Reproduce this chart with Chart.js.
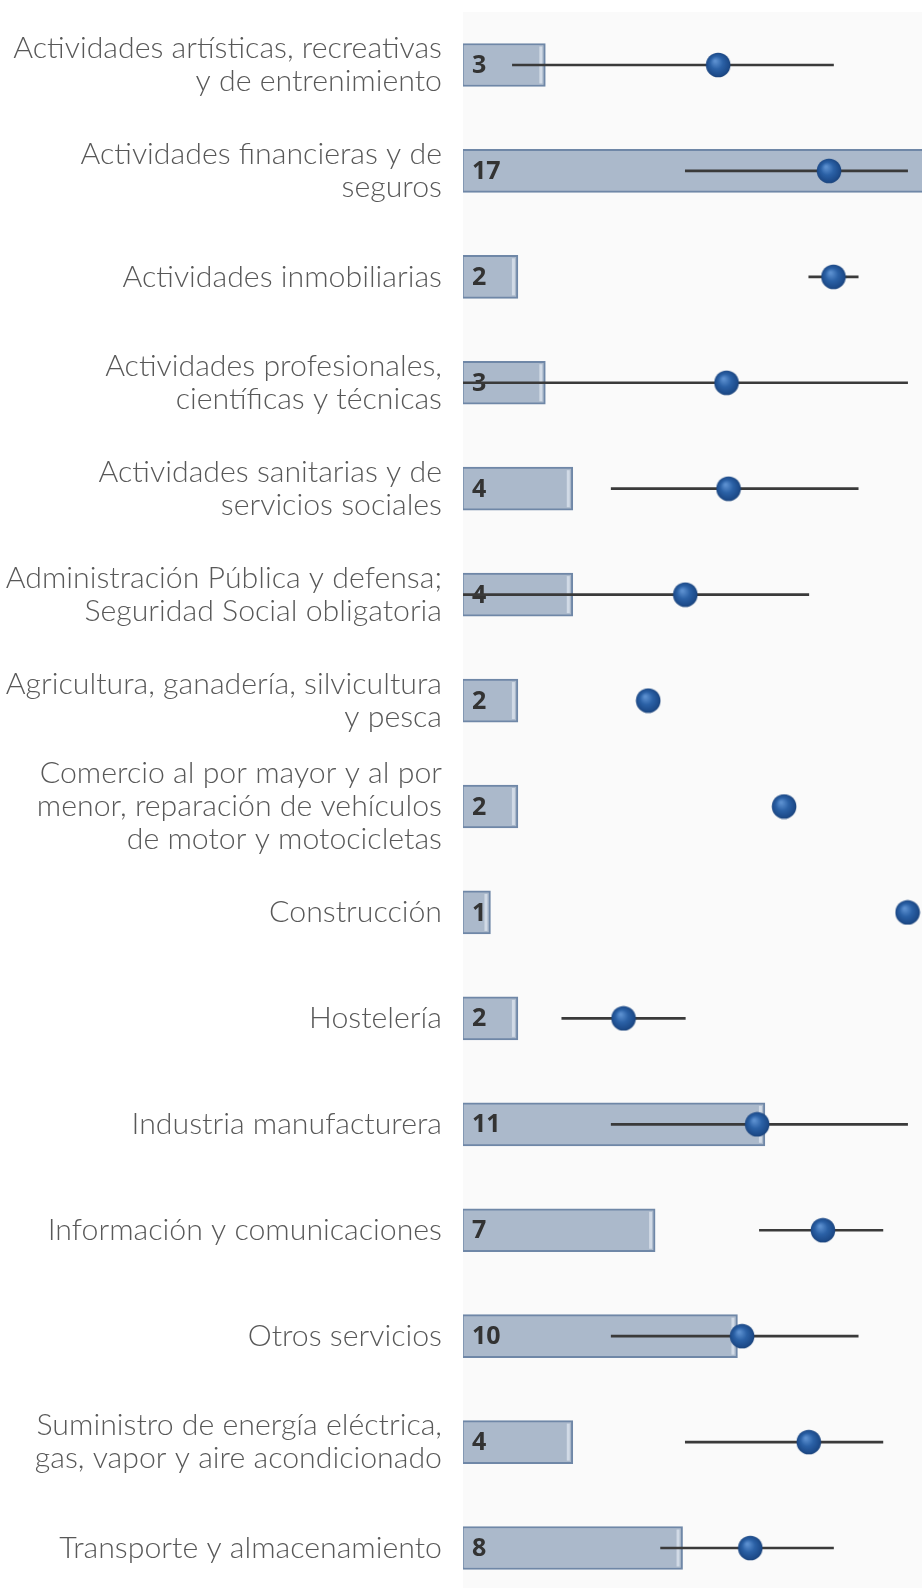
<!DOCTYPE html>
<html>
<head>
<meta charset="utf-8">
<script src="https://cdn.jsdelivr.net/npm/chart.js@4.4.1/dist/chart.umd.min.js"></script>
<style>
  html, body { margin: 0; padding: 0; background: #fff; overflow: hidden; }
  #wrap { width: 922px; height: 1588px; overflow: hidden; position: relative; }
  #mycanvas { position: absolute; left: 0; top: 0; }
</style>
</head>
<body>
<div id="wrap"><canvas id="mycanvas" width="957" height="1601" style="width:957px;height:1601px"></canvas></div>
<script>
// sectores
var sectores = [
  ['Actividades artísticas, recreativas', 'y de entrenimiento'],
  ['Actividades financieras y de', 'seguros'],
  'Actividades inmobiliarias',
  ['Actividades profesionales,', 'científicas y técnicas'],
  ['Actividades sanitarias y de', 'servicios sociales'],
  ['Administración Pública y defensa;', 'Seguridad Social obligatoria'],
  ['Agricultura, ganadería, silvicultura', 'y pesca'],
  ['Comercio al por mayor y al por', 'menor, reparación de vehículos', 'de motor y motocicletas'],
  'Construcción',
  'Hostelería',
  'Industria manufacturera',
  'Información y comunicaciones',
  'Otros servicios',
  ['Suministro de energía eléctrica,', 'gas, vapor y aire acondicionado'],
  'Transporte y almacenamiento'
];
// numero de respuestas (barras)
var nbr = [3, 17, 2, 3, 4, 4, 2, 2, 1, 2, 11, 7, 10, 4, 8];
// media (puntos) y rango min / max
var media = [10.33, 14.82, 15, 10.67, 10.75, 9, 7.5, 13, 18, 6.5, 11.91, 14.57, 11.3, 14, 11.63];
var minimo = [2, 9, 14, 0, 6, 0, null, null, null, 4, 6, 12, 6, 9, 8];
var maximo = [15, 18, 16, 18, 16, 14, null, null, null, 9, 18, 17, 16, 17, 15];

var rango = [];
for (var i in minimo) {
  rango.push(minimo[i] === null ? null : [minimo[i], maximo[i]]);
}

// bolita azul
var bola = document.createElement('canvas');
bola.width = 26; bola.height = 26;
var bc = bola.getContext('2d');
var g = bc.createRadialGradient(10, 9, 1, 13, 13, 13);
g.addColorStop(0, '#5b8fcf');
g.addColorStop(0.45, '#2b61a6');
g.addColorStop(0.85, '#1d4b8a');
g.addColorStop(1, '#173d72');
bc.fillStyle = g;
bc.beginPath();
bc.arc(13, 13, 12.3, 0, Math.PI * 2);
bc.fill();

var fondo = {
  id: 'fondo',
  beforeDatasetsDraw: function(chart) {
    var a = chart.chartArea, c = chart.ctx;
    c.save();
    c.fillStyle = '#fafafa';
    c.fillRect(a.left, a.top, a.right - a.left, a.bottom - a.top);
    c.restore();
  },
  afterDatasetDraw: function(chart, args) {
    if (args.index !== 0) return;
    var c = chart.ctx;
    c.save();
    // brillo en el extremo de cada barra
    c.strokeStyle = 'rgba(225,232,241,0.7)';
    c.lineWidth = 3;
    args.meta.data.forEach(function(bar) {
      var h = bar.height / 2;
      c.beginPath();
      c.moveTo(bar.x - 4.5, bar.y - h + 3);
      c.lineTo(bar.x - 4.5, bar.y + h - 3);
      c.stroke();
    });
    c.font = 'bold 25px "Open Sans"';
    c.fillStyle = '#333333';
    c.textBaseline = 'middle';
    c.textAlign = 'left';
    args.meta.data.forEach(function(bar, k) {
      c.fillText(nbr[k], bar.base + 9, bar.y + 1);
    });
    c.restore();
  }
};

var ctx = document.getElementById('mycanvas');
var barGraph = new Chart(ctx, {
  type: 'bar',
  data: {
    labels: sectores,
    datasets: [
      {
        label: 'Respuestas',
        data: nbr,
        xAxisID: 'x',
        backgroundColor: '#abb9cb',
        borderColor: '#6f87a7',
        borderWidth: { top: 2, bottom: 2, left: 1, right: 2 },
        borderSkipped: false,
        barThickness: 43,
        grouped: false,
        order: 2
      },
      {
        label: 'Rango',
        data: rango,
        xAxisID: 'x2',
        backgroundColor: '#3a3a3a',
        borderWidth: 0,
        barThickness: 2,
        grouped: false,
        order: 1
      },
      {
        type: 'line',
        label: 'Media',
        data: media,
        xAxisID: 'x2',
        indexAxis: 'y',
        showLine: false,
        pointStyle: bola,
        pointRadius: 12,
        clip: false,
        order: 0
      }
    ]
  },
  options: {
    indexAxis: 'y',
    responsive: false,
    animation: false,
    layout: { autoPadding: false, padding: { top: 12, left: 0, right: 0, bottom: 0 } },
    plugins: { legend: { display: false }, tooltip: { enabled: false } },
    scales: {
      x: { display: false, min: 0, max: 18 },
      x2: { display: false, min: 0, max: 20 },
      y: {
        afterFit: function(scale) {
          scale.width = 463;
          scale.paddingTop = 0;
          scale.paddingBottom = 0;
        },
        grid: { display: false, drawTicks: false },
        border: { display: true, color: '#d6d6d6', width: 1 },
        ticks: {
          padding: 21,
          color: '#585858',
          font: { family: 'Lato', size: 30.3, weight: 300, lineHeight: 1.09 }
        }
      }
    }
  },
  plugins: [fondo]
});
</script>
</body>
</html>
